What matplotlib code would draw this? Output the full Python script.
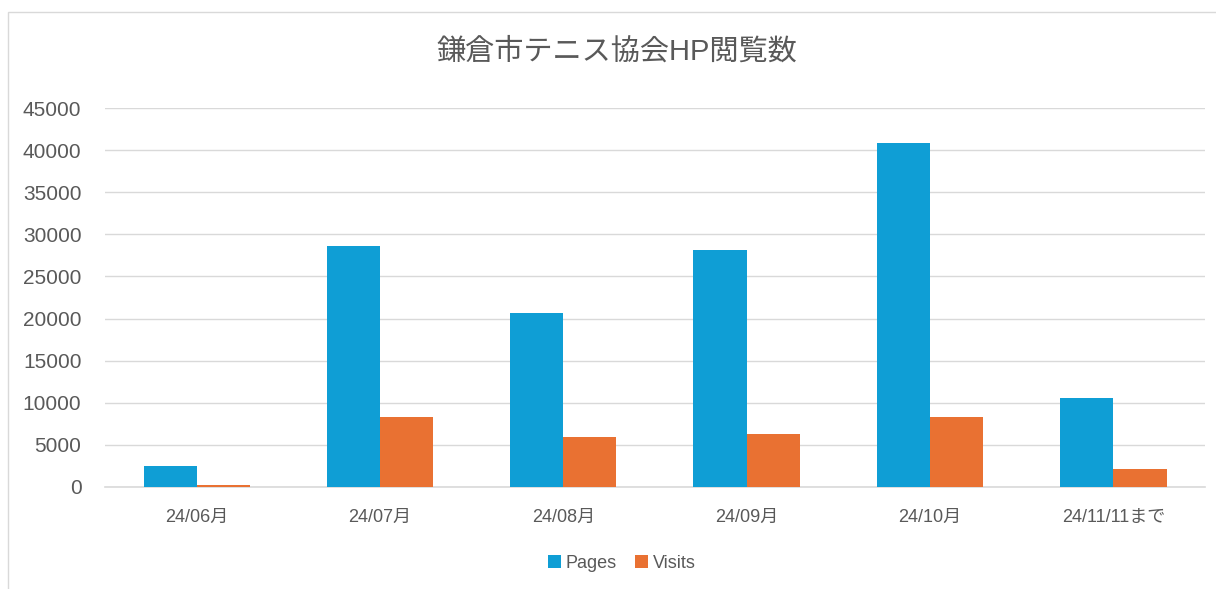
import numpy as np
import matplotlib.pyplot as plt
from matplotlib.patches import Rectangle

plt.rcParams['font.family'] = ['Liberation Sans', 'Noto Sans CJK JP']

categories = ['24/06月', '24/07月', '24/08月', '24/09月', '24/10月', '24/11/11まで']
pages = [2450, 28650, 20650, 28120, 40840, 10550]
visits = [200, 8290, 5920, 6280, 8330, 2130]

txt = '#595959'
grid_c = '#D9D9D9'

fig = plt.figure(figsize=(12.16, 5.89), dpi=100)
ax = fig.add_axes([105/1216, 1-487/589, 1100/1216, 379/589])

x = np.arange(len(categories))
w = 0.29
ax.bar(x - w/2, pages, w, color='#0F9ED5', label='Pages', zorder=3)
ax.bar(x + w/2, visits, w, color='#E97132', label='Visits', zorder=3)

ax.set_xlim(-0.5, len(categories) - 0.5)
ax.set_ylim(0, 45000)
ax.set_yticks(np.arange(0, 45001, 5000))
ax.set_xticks(x)
ax.set_xticklabels(categories, fontsize=13, color=txt)
ax.tick_params(axis='y', labelsize=15, labelcolor=txt, length=0, pad=17)
ax.tick_params(axis='x', length=0, pad=16)
ax.grid(axis='y', color=grid_c, lw=1.0, zorder=0)
ax.axhline(0, color=grid_c, lw=1.2, zorder=2, clip_on=False)
for s in ax.spines.values():
    s.set_visible(False)

fig.text(617/1216, 1-52/589, '鎌倉市テニス協会HP閲覧数', ha='center', va='center',
         fontsize=21, color=txt)

fig.legend(loc='center', bbox_to_anchor=(622/1216, 1-563/589), ncol=2, frameon=False,
           fontsize=13, labelcolor=txt, handlelength=0.7, handleheight=0.7,
           handletextpad=0.3, columnspacing=1.0)

# chart frame
fig.patches.append(Rectangle((8/1216, -0.05), 1.2, 1-12/589+0.05, transform=fig.transFigure,
                             fill=False, edgecolor=grid_c, lw=1.0))

fig.savefig('out.png', dpi=100)
